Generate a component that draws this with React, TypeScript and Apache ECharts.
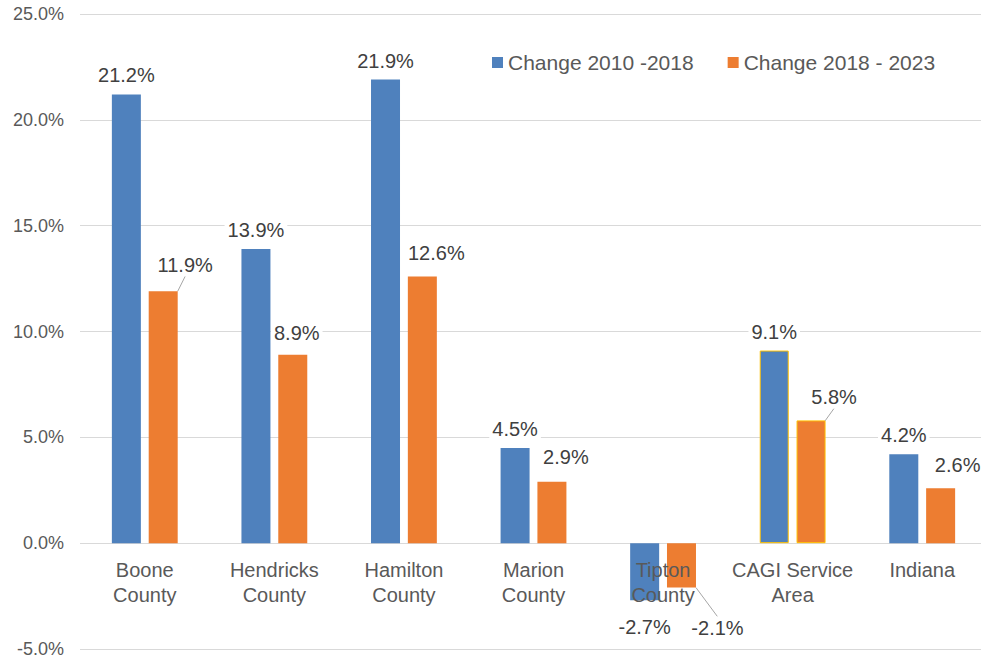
import React, { useEffect, useRef } from "react";
import * as echarts from "echarts";

const categories = [
  "Boone\nCounty",
  "Hendricks\nCounty",
  "Hamilton\nCounty",
  "Marion\nCounty",
  "Tipton\nCounty",
  "CAGI Service\nArea",
  "Indiana",
];
const change2010_2018 = [21.2, 13.9, 21.9, 4.5, -2.7, 9.1, 4.2];
const change2018_2023 = [11.9, 8.9, 12.6, 2.9, -2.1, 5.8, 2.6];
const seriesNames = ["Change 2010 -2018", "Change 2018 - 2023"];
const yTicks = { min: -5, max: 25, interval: 5 };

// label nudges (layout only)
const blueOffsets = [[0, 0], [0, 0], [0, 0], [0, 0], [0, 0], [0, 0], [0, 0]];
const orangeOffsets = [[22, -7], [4, -3], [14, -4], [14, -6], [36, 13], [23, -4], [17, -4]];
const orangeLeader = [true, false, false, false, true, true, false];

const FONT = "Liberation Sans, Arial, sans-serif";
const TEXT = "#595959";
const BLUE = "#4f81bd";
const ORANGE = "#ed7d31";
const GRID_TOP = 14;
const GRID_BOTTOM = 16;
const CHART_H = 665;

export default function App() {
  const ref = useRef<HTMLDivElement>(null);
  useEffect(() => {
    if (!ref.current) return;
    const chart = echarts.init(ref.current, undefined, { renderer: "svg" });
    const plotH = CHART_H - GRID_TOP - GRID_BOTTOM;
    const zeroOffset = -plotH * (0 - yTicks.min) / (yTicks.max - yTicks.min);
    const labelBase = {
      show: true,
      fontSize: 20,
      color: "#404040",
      fontFamily: FONT,
      backgroundColor: "#fff",
      padding: [1, 3],
      distance: 8,
      formatter: (p: any) => p.value.toFixed(1) + "%",
    };
    const mkData = (vals: number[], color: string, leaders?: boolean[]) =>
      vals.map((v, i) => ({
        value: v,
        itemStyle:
          i === 5 ? { color, borderColor: "#ffc000", borderWidth: 1 } : { color },
        label: { position: v < 0 ? "bottom" : "top", distance: v < 0 ? 16 : 8 },
        labelLine: {
          show: leaders ? leaders[i] : false,
          lineStyle: { color: "#a6a6a6", width: 1 },
        },
      }));
    chart.setOption({
      animation: false,
      textStyle: { fontFamily: FONT },
      grid: { left: 80, right: -6, top: GRID_TOP, bottom: GRID_BOTTOM, containLabel: false, outerBoundsMode: "none" },
      legend: {
        left: 487,
        top: 47,
        itemWidth: 11,
        itemHeight: 11,
        itemGap: 34,
        icon: "rect",
        textStyle: { fontSize: 21, color: TEXT, fontFamily: FONT },
        data: seriesNames,
      },
      xAxis: {
        type: "category",
        data: categories,
        z: 5,
        offset: zeroOffset,
        axisLine: { show: false, onZero: false },
        axisTick: { show: false },
        axisLabel: {
          fontSize: 20,
          color: TEXT,
          fontFamily: FONT,
          lineHeight: 25,
          margin: 14,
          interval: 0,
        },
      },
      yAxis: {
        type: "value",
        min: yTicks.min,
        max: yTicks.max,
        interval: yTicks.interval,
        axisLine: { show: false },
        axisTick: { show: false },
        splitLine: { lineStyle: { color: "#d9d9d9", width: 1 } },
        axisLabel: {
          fontSize: 18,
          color: TEXT,
          fontFamily: FONT,
          margin: 16,
          formatter: (v: number) => v.toFixed(1) + "%",
        },
      },
      series: [
        {
          name: seriesNames[0],
          type: "bar",
          barWidth: 29,
          barGap: "27%",
          itemStyle: { color: BLUE },
          data: mkData(change2010_2018, BLUE),
          label: labelBase,
          labelLayout: (p: any) => ({ dx: blueOffsets[p.dataIndex][0], dy: blueOffsets[p.dataIndex][1] }),
        },
        {
          name: seriesNames[1],
          type: "bar",
          barWidth: 29,
          barGap: "27%",
          itemStyle: { color: ORANGE },
          data: mkData(change2018_2023, ORANGE, orangeLeader),
          label: labelBase,
          labelLine: { show: false, lineStyle: { color: "#a6a6a6", width: 1 } },
          labelLayout: (p: any) => ({
            dx: orangeOffsets[p.dataIndex][0],
            dy: orangeOffsets[p.dataIndex][1],
          }),
        },
      ],
    });
    return () => chart.dispose();
  }, []);
  return (
    <div
      ref={ref}
      style={{ position: "fixed", left: 0, top: 0, width: 981, height: 665, background: "#fff" }}
    />
  );
}
